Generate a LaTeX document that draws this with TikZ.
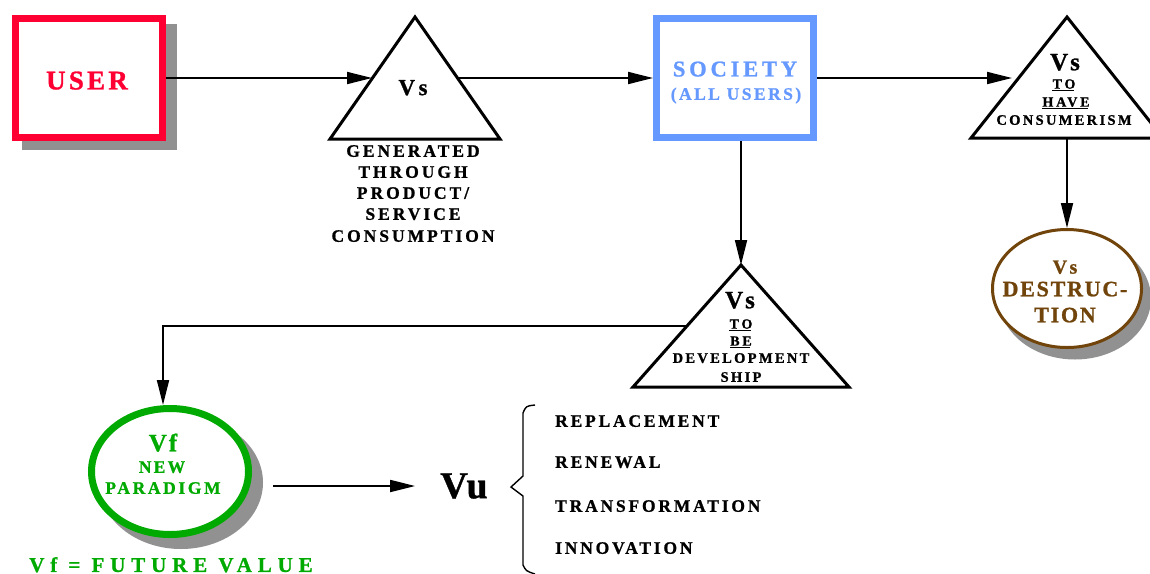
\documentclass[tikz,border=0pt]{standalone}
\usepackage{fontspec}
\setmainfont{Liberation Serif}
\usetikzlibrary{arrows.meta,calc,shapes.geometric}
\definecolor{ured}{RGB}{255,0,51}
\definecolor{ublue}{RGB}{102,153,255}
\definecolor{ugreen}{RGB}{0,170,0}
\definecolor{ubrown}{RGB}{112,68,10}
\definecolor{ushadow}{RGB}{145,145,145}
\newcommand\tsp[2]{\fontsize{#1}{#1}\selectfont\bfseries\addfontfeature{LetterSpace=#2,FakeBold=1}}
% \lab{name}{x}{y-centre of caps}{size}{spacing}{colour}{text}
\newcommand\lab[7]{\node[lbl,text=#6,font={\tsp{#4}{#5}}] (#1) at (#2,{#3+0.33*#4}) {#7};}
\newcommand\labl[7]{\node[lbl,anchor=base west,text=#6,font={\tsp{#4}{#5}}] (#1) at (#2,{#3+0.33*#4}) {#7};}
\newcommand\ulnode[1]{\draw[ulstyle] ([yshift=-2pt]#1.base west) -- ([yshift=-2pt,xshift=-1.5pt]#1.base east);}
\begin{document}
\begin{tikzpicture}[x=1pt,y=-1pt,
  lbl/.style={anchor=base,inner sep=0pt},
  ulstyle/.style={line width=1.3pt},
  arr/.style={line width=1.8pt,-{Triangle[length=25pt,width=12pt]}},
  tri/.style={line width=3pt,line join=miter},
  shadowfill/.style={fill=ushadow},
  box/.style={rectangle,line width=7pt,minimum width=147pt,minimum height=119pt,inner sep=0pt},
  oval/.style={ellipse,inner sep=0pt}]
\useasboundingbox (0,0) rectangle (1150,573);

% USER box
\fill[shadowfill] (22,24) rectangle (177,150);
\node[box,draw=ured,fill=white] (user) at (89,78) {};
\lab{usert}{87}{80.5}{27}{12}{ured}{USER}

% triangle 1
\coordinate (t1a) at (415,17);
\coordinate (t1l) at (330,139);
\coordinate (t1r) at (500,139);
\draw[tri] (t1a) -- (t1l) -- (t1r) -- cycle;
\coordinate (t1in) at (372,78);
\coordinate (t1out) at (457,78);
\lab{t1vs}{413}{87.5}{23}{15}{black}{Vs}
\lab{g1}{413}{151}{17.5}{17}{black}{GENERATED}
\lab{g2}{413}{172}{17.5}{17}{black}{THROUGH}
\lab{g3}{413}{193}{17.5}{17}{black}{PRODUCT/}
\lab{g4}{413}{214}{17.5}{17}{black}{SERVICE}
\lab{g5}{413}{236}{17.5}{17}{black}{CONSUMPTION}

% SOCIETY box
\node[box,draw=ublue,minimum width=157pt] (soc) at (735,78) {};
\lab{soc1}{735}{69}{22.5}{17}{ublue}{SOCIETY}
\lab{soc2}{736}{94}{17.5}{14}{ublue}{(ALL USERS)}

% triangle 3
\coordinate (t3a) at (1067,17);
\coordinate (t3l) at (971,138);
\coordinate (t3r) at (1163,138);
\draw[tri] (t3a) -- (t3l) -- (t3r) -- cycle;
\coordinate (t3in) at (1012,78);
\coordinate (t3b) at (1067,138);
\lab{t3vs}{1065}{62}{25}{8}{black}{Vs}
\lab{t3to}{1064}{84}{14}{20}{black}{TO}
\ulnode{t3to}
\lab{t3have}{1066}{102}{14}{20}{black}{HAVE}
\ulnode{t3have}
\lab{t3cons}{1064}{120}{14.5}{16}{black}{CONSUMERISM}

% destruction ellipse
\fill[shadowfill] (1075,298.5) ellipse [x radius=76, y radius=61];
\node[oval,draw=ubrown,line width=3pt,fill=white,minimum width=149pt,minimum height=118pt] (dest) at (1067,288.5) {};
\lab{d1}{1065}{267}{20}{12}{ubrown}{Vs}
\lab{d2}{1065}{289}{22}{8}{ubrown}{DESTRUC-}
\lab{d3}{1065}{315}{22}{8}{ubrown}{TION}

% triangle 2
\coordinate (t2a) at (741,265);
\coordinate (t2l) at (633,387);
\coordinate (t2r) at (849,387);
\draw[tri] (t2a) -- (t2l) -- (t2r) -- cycle;
\coordinate (t2out) at (687,326);
\lab{t2vs}{740}{300}{25}{8}{black}{Vs}
\lab{t2to}{741}{324}{14}{20}{black}{TO}
\ulnode{t2to}
\lab{t2be}{741}{341}{14}{20}{black}{BE}
\ulnode{t2be}
\lab{t2dev}{741}{358}{14.5}{16}{black}{DEVELOPMENT}
\lab{t2ship}{741}{377}{14.5}{16}{black}{SHIP}

% Vf ellipse
\fill[shadowfill] (181,482.5) ellipse [x radius=82, y radius=66.5];
\node[oval,draw=ugreen,line width=7pt,fill=white,minimum width=157pt,minimum height=126pt] (vf) at (170,471.5) {};
\lab{vf1}{163}{443}{25}{8}{ugreen}{Vf}
\lab{vf2}{162}{467}{17.5}{13}{ugreen}{NEW}
\lab{vf3}{163}{488}{17.5}{15}{ugreen}{PARADIGM}
\lab{vfdef}{171}{565}{21}{28}{ugreen}{Vf = FUTURE VALUE}

% Vu and list
\coordinate (vfout) at (273,486);
\node[inner ysep=0pt,inner xsep=25pt,font={\tsp{38}{6}}] (vu) at (464,486) {Vu};
\labl{i1}{555}{421}{17.5}{16}{black}{REPLACEMENT}
\labl{i2}{555}{462}{17.5}{16}{black}{RENEWAL}
\labl{i3}{555}{506}{17.5}{16}{black}{TRANSFORMATION}
\labl{i4}{555}{548}{17.5}{16}{black}{INNOVATION}
\draw[line width=1.4pt] (535,405) .. controls (526,406) .. (523,413) -- (523,476) -- (511,487) -- (523,496) -- (523,565) .. controls (526,571) .. (535,574);

% connectors
\draw[arr] (user.east) -- (t1in);
\draw[arr] (t1out) -- (soc.west);
\draw[arr] (soc.east) -- (t3in);
\draw[arr] (t3b) -- (dest.north);
\draw[arr] (t2a |- soc.south) -- (t2a);
\draw[arr] (t2out) -| ([xshift=-7pt]vf.north);
\draw[arr] (vfout) -- (vu.west);
\end{tikzpicture}
\end{document}
